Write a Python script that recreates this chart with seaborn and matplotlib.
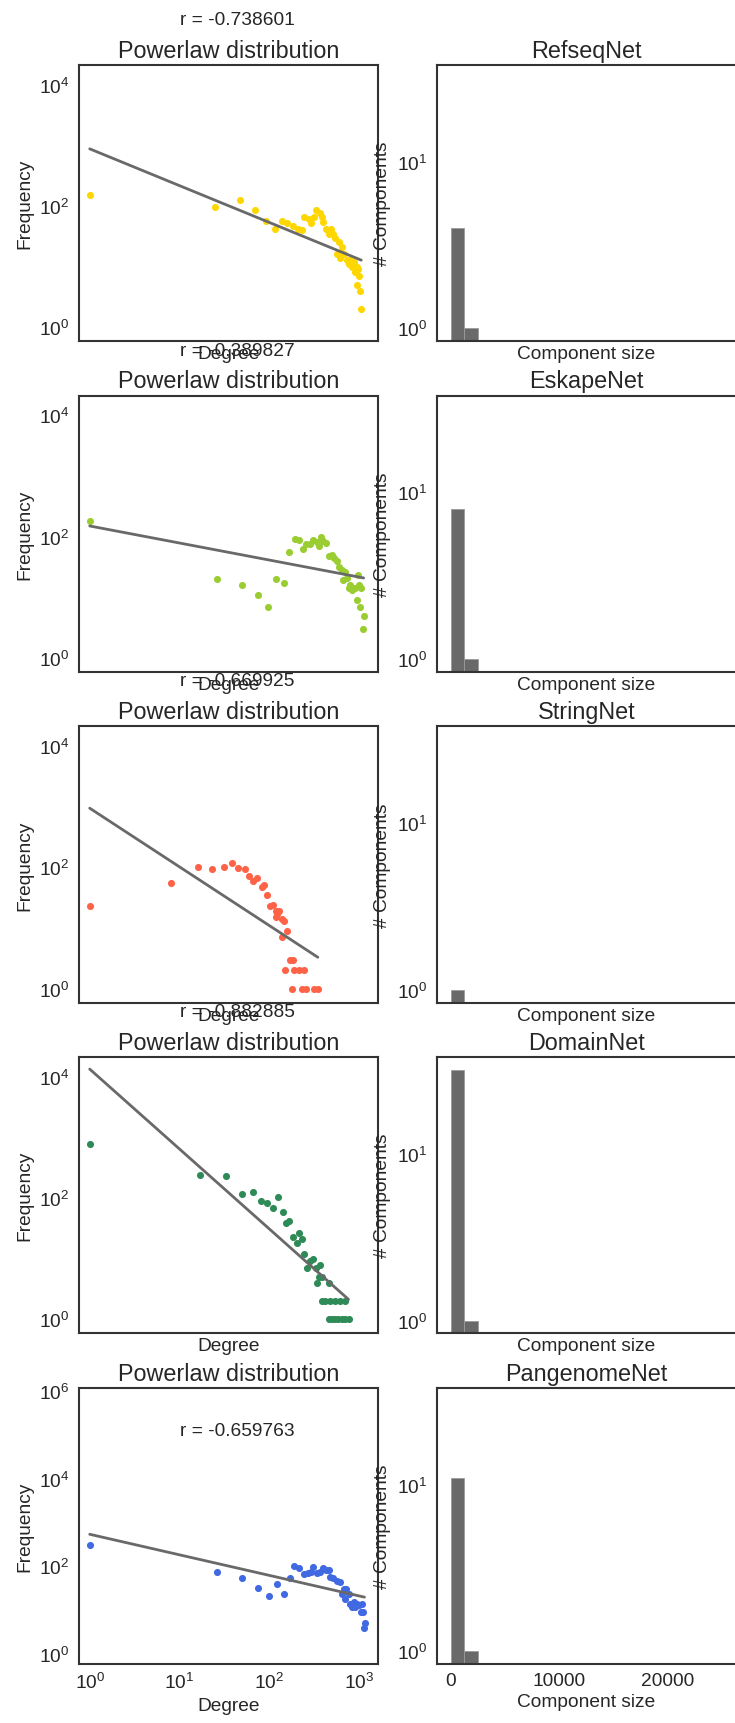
import numpy as np
import matplotlib
matplotlib.use("Agg")
import matplotlib.pyplot as plt
import seaborn as sns

# degree distributions (degree, frequency)
deg_refseq = [1, 25, 47, 70, 91, 115, 138, 159, 182, 208, 229, 245, 274, 294, 311, 333, 363, 383, 400, 429,
              456, 482, 516, 540, 560, 590, 617, 642, 670, 730, 760, 790, 825, 865, 905, 940, 940, 980, 1005,
              1025, 1055]
freq_refseq = [152, 94, 126, 87, 57, 42, 57, 52, 46, 42, 40, 65, 61, 52, 65, 87, 76, 65, 55, 42,
               35, 42, 35, 29, 16, 25, 14, 21, 16, 13, 11, 13, 10, 12, 8, 10, 5, 9, 7,
               4, 2]

deg_eskape = [1, 26, 50, 74, 97, 120, 145, 167, 191, 214, 235, 257, 283, 303, 337, 357, 376, 400, 429, 456,
              497, 530, 564, 603, 642, 700, 660, 725, 760, 790, 825, 900, 960, 1005, 1055, 940, 1025, 1120, 1100]
freq_eskape = [178, 20, 16, 11, 7, 20, 17, 55, 91, 89, 62, 76, 76, 88, 81, 71, 98, 85, 78, 48,
               50, 44, 39, 32, 28, 26, 19, 21, 14, 16, 13, 14, 23, 16, 14, 9, 7, 5, 3]

deg_string = [1, 8, 16, 23, 31, 38, 45, 53, 59, 66, 73, 82, 88, 94, 101, 109, 117, 123, 129, 119,
              137, 145, 156, 139, 168, 185, 150, 190, 215, 240, 178, 229, 257, 310, 346]
freq_string = [23, 55, 100, 93, 102, 120, 98, 93, 71, 59, 66, 47, 51, 35, 23, 24, 19, 17, 19, 15,
               14, 13, 9, 7, 3, 3, 2, 2, 2, 2, 1, 1, 1, 1, 1]

deg_domain = [1, 17, 33, 49, 65, 80, 95, 111, 126, 141, 154, 167, 185, 202, 216, 230, 243, 261, 284, 309,
              331, 337, 367, 360, 383, 456, 384, 418, 476, 540, 613, 697, 456, 497, 540, 587, 642, 697, 760]
freq_domain = [770, 240, 228, 118, 126, 90, 83, 68, 104, 59, 39, 42, 23, 18, 27, 21, 12, 7, 9, 10,
               7, 4, 8, 5, 5, 4, 2, 2, 2, 2, 2, 2, 1, 1, 1, 1, 1, 1, 1]

deg_pangenome = [1, 26, 50, 74, 99, 123, 146, 170, 190, 214, 240, 272, 290, 309, 337, 367, 393, 429, 462, 475,
                 510, 564, 613, 669, 716, 642, 764, 697, 794, 827, 866, 900, 940, 1005, 1070, 1055, 1100, 1145, 1120]
freq_pangenome = [309, 76, 54, 32, 21, 39, 23, 54, 99, 89, 66, 72, 75, 94, 72, 76, 91, 82, 83, 56,
                  53, 45, 43, 30, 30, 23, 23, 18, 14, 12, 15, 12, 14, 13, 14, 9, 9, 5, 4]

# log-log fit: log10(freq) = intercept + slope * log10(degree)
fit_intercept = [2.94, 2.175, 2.975, 4.126, 2.73]
fit_slope = [-0.607, -0.281, -0.968, -1.318, -0.469]
r_values = [-0.738601, -0.389827, -0.669925, -0.882885, -0.659763]

# component size histograms: counts in the first bins of width 1250
bin_edges = list(range(0, 26250, 1250))
comp_refseq = [4, 1]
comp_eskape = [8, 1]
comp_string = [1]
comp_domain = [32, 1]
comp_pangenome = [11, 1]

names = ["RefseqNet", "EskapeNet", "StringNet", "DomainNet", "PangenomeNet"]
colors = ["gold", "yellowgreen", "tomato", "seagreen", "royalblue"]
degs = [deg_refseq, deg_eskape, deg_string, deg_domain, deg_pangenome]
freqs = [freq_refseq, freq_eskape, freq_string, freq_domain, freq_pangenome]
comps = [comp_refseq, comp_eskape, comp_string, comp_domain, comp_pangenome]

sns.set_style("white")
plt.rcParams["font.family"] = ["Liberation Sans", "DejaVu Sans"]
plt.rcParams["mathtext.fontset"] = "custom"
plt.rcParams["mathtext.rm"] = "Liberation Sans"
plt.rcParams["mathtext.it"] = "Liberation Sans:italic"
plt.rcParams["axes.linewidth"] = 1.5
plt.rcParams["axes.edgecolor"] = ".2"
plt.rcParams["text.color"] = ".15"
plt.rcParams["axes.labelcolor"] = ".15"
plt.rcParams["xtick.color"] = ".15"
plt.rcParams["ytick.color"] = ".15"
plt.rcParams["xtick.major.pad"] = 2.5

fs = 13.8
tfs = 16.8

fig, axes = plt.subplots(5, 2, figsize=(7.35, 17.24), dpi=100, sharex="col")
fig.subplots_adjust(left=79 / 735, right=736 / 735, top=1 - 66 / 1724, bottom=59 / 1724,
                    wspace=0.197, hspace=0.198)

for i in range(5):
    ax = axes[i, 0]
    sns.scatterplot(x=degs[i], y=freqs[i], color=colors[i], s=26, linewidth=0, ax=ax)
    xs = np.array([min(degs[i]), max(degs[i])], dtype=float)
    ys = 10 ** (fit_intercept[i] + fit_slope[i] * np.log10(xs))
    ax.plot(xs, ys, color="dimgray", lw=2)
    ax.set_xscale("log")
    ax.set_yscale("log")
    ax.set_xlim(0.76, 1620)
    if i < 4:
        ax.set_ylim(0.59, 2.1e4)
        ax.set_yticks([1, 1e2, 1e4])
    else:
        ax.set_ylim(0.59, 1.17e6)
        ax.set_yticks([1, 1e2, 1e4, 1e6])
    ax.text(10, 1e5, "r = %f" % r_values[i], fontsize=fs)
    ax.set_title("Powerlaw distribution", fontsize=tfs)
    ax.set_xlabel("Degree", fontsize=fs, labelpad=3)
    ax.xaxis.label.set_visible(True)
    ax.set_ylabel("Frequency", fontsize=fs)
    ax.tick_params(labelsize=fs)
    ax.minorticks_off()

    ax = axes[i, 1]
    lefts = bin_edges[:len(comps[i])]
    sns.histplot(x=lefts, weights=comps[i], bins=bin_edges, color="dimgray", alpha=1,
                 edgecolor="#9a9a9a", linewidth=0.6, ax=ax)
    ax.set_yscale("log")
    ax.set_xlim(-1250, 26250)
    ax.set_ylim(0.84, 38)
    ax.set_yticks([1, 10])
    ax.minorticks_off()
    ax.set_title(names[i], fontsize=tfs)
    ax.set_xlabel("Component size", fontsize=fs, labelpad=3)
    ax.xaxis.label.set_visible(True)
    ax.set_ylabel("# Components", fontsize=fs)
    ax.tick_params(labelsize=fs)

axes[4, 1].set_xticks([0, 10000, 20000])

fig.savefig("out.png", dpi=100)
